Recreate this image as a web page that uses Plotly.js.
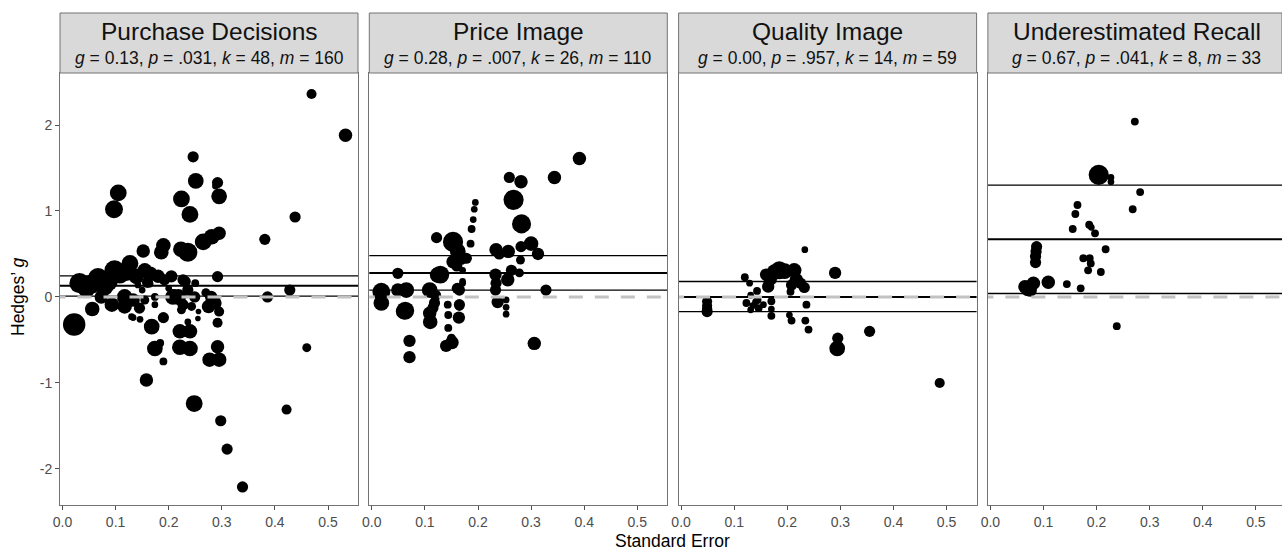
<!DOCTYPE html>
<html>
<head>
<meta charset="utf-8">
<script src="https://cdn.plot.ly/plotly-3.0.1.min.js"></script>
<style>html,body{margin:0;padding:0;background:#fff;}#chart{width:1282px;height:552px;}</style>
</head>
<body>
<div id="chart"></div>
<script>
// ---------- DATA ----------
const panelTitles = ["Purchase Decisions", "Price Image", "Quality Image", "Underestimated Recall"];
const panelStats = [
  "<i>g</i> = 0.13, <i>p</i> = .031, <i>k</i> = 48, <i>m</i> = 160",
  "<i>g</i> = 0.28, <i>p</i> = .007, <i>k</i> = 26, <i>m</i> = 110",
  "<i>g</i> = 0.00, <i>p</i> = .957, <i>k</i> = 14, <i>m</i> = 59",
  "<i>g</i> = 0.67, <i>p</i> = .041, <i>k</i> = 8, <i>m</i> = 33"
];
const estimate = [0.13, 0.28, 0.00, 0.67];
const ciLower  = [0.01, 0.08, -0.17, 0.04];
const ciUpper  = [0.245, 0.48, 0.18, 1.30];

// Purchase Decisions: standard error, Hedges' g, weight
const pdSE = [0.469,0.533,0.246,0.251,0.292,0.288,0.295,0.105,0.097,0.224,0.240,0.438,0.381,0.428,0.386,0.265,0.281,0.295,0.190,0.186,
  0.152,0.223,0.236,0.292,0.022,0.032,0.045,0.067,0.079,0.098,0.108,0.127,0.139,0.155,0.180,0.192,0.227,0.236,0.249,0.280,
  0.287,0.073,0.117,0.133,0.117,0.145,0.155,0.174,0.174,0.130,0.142,0.208,0.218,0.227,0.243,0.255,0.056,0.093,0.168,0.174,
  0.184,0.190,0.190,0.158,0.221,0.240,0.221,0.240,0.236,0.248,0.292,0.277,0.295,0.292,0.295,0.298,0.310,0.339,0.422,0.460,
  0.133,0.146,0.256,0.275,0.224,0.231,0.250,0.221,0.150,0.165,0.200,0.210,0.165,0.205,0.085,0.055,0.120,0.160,0.280,0.270];
const pdG = [2.36,1.88,1.63,1.35,1.33,1.29,1.17,1.21,1.02,1.14,0.96,0.93,0.67,0.08,0.00,0.64,0.70,0.74,0.60,0.52,
  0.535,0.555,0.52,0.236,-0.32,0.16,0.10,0.22,0.12,0.31,0.26,0.39,0.24,0.31,0.24,0.20,0.20,0.08,0.00,0.00,
  -0.07,0.00,0.00,-0.035,-0.11,-0.13,-0.035,0.00,-0.09,-0.23,0.14,0.00,0.00,-0.09,-0.11,-0.25,-0.14,-0.09,-0.345,-0.60,
  -0.535,-0.24,-0.75,-0.965,-0.40,-0.40,-0.585,-0.60,-0.29,-1.24,-0.58,-0.73,-0.73,-0.30,-0.17,-1.44,-1.77,-2.21,-1.31,-0.59,
  -0.24,-0.26,-0.17,-0.11,-0.15,0.18,0.16,-0.05,0.08,0.15,0.10,0.05,0.27,0.24,0.18,0.15,0.29,0.17,-0.04,0.05];
const pdW = [9,12,10,14,10,6,14,15,16,15,15,10,10,10,10,15,14,12,13,13,
  12,14,17,10,20,18,16,18,16,18,16,15,14,13,12,10,10,10,10,11,
  12,12,14,12,13,10,8,7,6,6,6,14,14,10,8,5,13,13,14,14,
  7,10,7,12,13,13,14,14,6,15,12,13,13,9,9,10,10,10,9,8,
  6,6,5,12,8,10,7,8,6,6,6,6,13,11,18,17,16,10,10,8];

// Price Image
const piSE = [0.391,0.344,0.259,0.281,0.267,0.282,0.195,0.193,0.191,0.188,0.186,0.122,0.153,0.162,0.168,0.178,0.153,0.171,0.129,0.049,
  0.018,0.018,0.049,0.065,0.063,0.071,0.071,0.109,0.118,0.109,0.110,0.143,0.144,0.144,0.140,0.151,0.150,0.165,0.165,0.164,
  0.171,0.234,0.257,0.233,0.233,0.256,0.263,0.278,0.237,0.253,0.253,0.253,0.281,0.300,0.313,0.280,0.328,0.306,0.240,0.160,
  0.120,0.115,0.234,0.161,0.171,0.165,0.060,0.124];
const piG = [1.61,1.39,1.39,1.34,1.13,0.85,1.10,1.02,0.90,0.79,0.62,0.69,0.64,0.53,0.45,0.45,0.41,0.31,0.26,0.275,
  0.06,-0.07,0.08,0.08,-0.16,-0.51,-0.70,0.08,-0.07,-0.19,-0.29,-0.09,-0.21,-0.36,-0.57,-0.53,-0.48,0.08,-0.09,-0.24,
  0.16,0.55,0.53,0.26,0.08,0.20,0.31,0.28,-0.06,-0.035,-0.12,-0.20,0.585,0.62,0.50,0.43,0.08,-0.54,0.50,0.36,
  0.02,-0.13,0.16,0.10,0.18,-0.11,-0.17,0.255];
const piW = [12,12,10,12,18,17,6,6,6,7,7,10,18,14,12,10,12,6,16,10,
  16,14,12,14,16,11,11,14,10,12,13,7,7,7,11,12,8,10,10,11,
  6,12,12,11,10,12,10,8,11,6,6,6,10,13,11,8,10,12,10,10,
  10,10,10,10,6,8,14,14];

// Quality Image
const qiSE = [0.049,0.049,0.049,0.049,0.120,0.129,0.131,0.123,0.131,0.143,0.144,0.146,0.164,0.160,0.170,0.170,0.176,0.185,0.195,0.213,
  0.217,0.232,0.225,0.206,0.204,0.208,0.233,0.236,0.234,0.240,0.290,0.295,0.294,0.355,0.487,0.168,0.155,0.135,0.140,0.170,0.208];
const qiG = [-0.05,-0.10,-0.13,-0.17,0.23,0.16,0.02,-0.07,-0.15,0.07,-0.035,-0.13,0.12,0.26,-0.05,-0.22,0.29,0.31,0.30,0.31,
  0.20,0.11,0.16,0.06,-0.21,-0.275,0.55,-0.09,-0.275,-0.38,0.28,-0.48,-0.60,-0.40,-1.00,0.21,-0.09,-0.10,-0.06,-0.14,0.14];
const qiW = [9,9,9,10,7,6,6,7,6,7,7,7,11,11,7,7,14,16,14,13,
  12,10,10,7,6,7,6,7,7,7,11,10,14,10,9,12,6,6,6,6,10];

// Underestimated Recall
const urSE = [0.272,0.204,0.227,0.227,0.282,0.268,0.164,0.160,0.155,0.186,0.190,0.197,0.217,0.175,0.187,0.189,0.184,0.208,0.087,0.086,
  0.085,0.085,0.071,0.081,0.065,0.109,0.144,0.170,0.238,0.075];
const urG = [2.04,1.42,1.39,1.34,1.22,1.02,1.07,0.965,0.79,0.84,0.81,0.74,0.555,0.45,0.45,0.39,0.31,0.29,0.585,0.53,
  0.47,0.40,0.10,0.16,0.12,0.17,0.15,0.10,-0.34,0.08];
const urW = [7,18,6,6,7,7,7,7,7,7,6,7,7,7,7,7,7,7,10,10,
  10,10,14,12,12,12,7,7,7,12];

const xTickVals = [0, 0.1, 0.2, 0.3, 0.4, 0.5];
const xTickText = ["0.0", "0.1", "0.2", "0.3", "0.4", "0.5"];
const yTickVals = [-2, -1, 0, 1, 2];
const yTickText = ["-2", "-1", "0", "1", "2"];

// ---------- LAYOUT GEOMETRY ----------
const W = 1282, H = 552;
const mL = 60, mR = 0, mT = 73, mB = 47;
const plotW = W - mL - mR, plotH = H - mT - mB;
const pxPerUnit = 531;            // horizontal pixels per 1.0 SE
const panelStep = 309.3, panelW = 298;
const sizeScale = 1.12;
const xs = [pdSE, piSE, qiSE, urSE];
const ys = [pdG, piG, qiG, urG];
const ws = [pdW, piW, qiW, urW];

const FONT = "Liberation Sans, Arial, Helvetica, sans-serif";
const borderColor = "#737373";

const traces = [];
const layout = {
  width: W, height: H,
  margin: {l: mL, r: mR, t: mT, b: mB, pad: 0},
  paper_bgcolor: "#fff", plot_bgcolor: "#fff",
  showlegend: false,
  font: {family: FONT, size: 14, color: "#4d4d4d"},
  shapes: [], annotations: []
};

const stripTop = (mT - 13) / plotH;   // strip height in paper units

for (let p = 0; p < 4; p++) {
  const leftPx = mL + panelStep * p;
  const rightPx = Math.min(leftPx + panelW, W - mR);
  const d0 = (leftPx - mL) / plotW, d1 = (rightPx - mL) / plotW;
  const xr0 = -2.5 / pxPerUnit;
  const xr1 = xr0 + (rightPx - leftPx) / pxPerUnit;
  const sfx = p === 0 ? "" : String(p + 1);
  const xa = "x" + sfx, ya = "y" + sfx;

  layout["xaxis" + sfx] = {
    domain: [d0, d1], range: [xr0, xr1], anchor: ya,
    showgrid: false, zeroline: false,
    showline: true, mirror: true, linecolor: borderColor, linewidth: 1,
    ticks: "outside", ticklen: 4, tickwidth: 1, tickcolor: "#4d4d4d",
    tickvals: xTickVals, ticktext: xTickText,
    tickfont: {family: FONT, size: 14, color: "#4d4d4d"}, fixedrange: true
  };
  layout["yaxis" + sfx] = {
    domain: [0, 1], range: [-2.42, 2.605], anchor: xa,
    showgrid: false, zeroline: false,
    showline: true, mirror: true, linecolor: borderColor, linewidth: 1,
    ticks: p === 0 ? "outside" : "", ticklen: 4, tickwidth: 1, tickcolor: "#4d4d4d",
    showticklabels: p === 0,
    tickvals: yTickVals, ticktext: yTickText,
    tickfont: {family: FONT, size: 14, color: "#4d4d4d"}, fixedrange: true
  };

  // points
  traces.push({
    type: "scatter", mode: "markers", x: xs[p], y: ys[p], xaxis: xa, yaxis: ya,
    marker: {color: "#000", opacity: 1, size: ws[p].map(w => w * sizeScale), sizemode: "diameter", line: {width: 0}},
    hoverinfo: "x+y", cliponaxis: true
  });
  // estimate and CI lines
  const span = [-1, 1];
  [[ciUpper[p], 1.3], [estimate[p], 2], [ciLower[p], 1.3]].forEach(([v, lw]) => {
    traces.push({
      type: "scatter", mode: "lines", x: span, y: [v, v], xaxis: xa, yaxis: ya,
      line: {color: "#000", width: lw}, hoverinfo: "skip"
    });
  });
  // reference zero line (gray dashed, on top)
  traces.push({
    type: "scatter", mode: "lines", x: span, y: [0, 0], xaxis: xa, yaxis: ya,
    line: {color: "#c2c2c2", width: 3, dash: "14px,12px"}, hoverinfo: "skip"
  });

  // strip
  layout.shapes.push({
    type: "rect", xref: xa + " domain", yref: "paper",
    x0: 0, x1: 1, y0: 1, y1: 1 + stripTop,
    fillcolor: "#d9d9d9", line: {color: borderColor, width: 1}, layer: "above"
  });
  const centerPx = leftPx + panelW / 2;
  layout.annotations.push({
    xref: "paper", yref: "paper", x: (centerPx - mL) / plotW, y: (H - mB - 32) / plotH,
    text: panelTitles[p], showarrow: false, xanchor: "center", yanchor: "middle",
    font: {family: FONT, size: 24.5, color: "#111"}
  });
  layout.annotations.push({
    xref: "paper", yref: "paper", x: (centerPx - mL) / plotW, y: (H - mB - 58) / plotH,
    text: panelStats[p], showarrow: false, xanchor: "center", yanchor: "middle",
    font: {family: FONT, size: 17.5, color: "#111"}
  });
}

// axis titles
layout.annotations.push({
  xref: "paper", yref: "paper", x: (672 - mL) / plotW, y: -(541 - (H - mB)) / plotH,
  text: "Standard Error", showarrow: false, xanchor: "center", yanchor: "middle",
  font: {family: FONT, size: 17.5, color: "#000"}
});
layout.annotations.push({
  xref: "paper", yref: "paper", x: (18 - mL) / plotW, y: ((H - mB) - 297) / plotH,
  text: "Hedges\u2019 <i>g</i>", showarrow: false, xanchor: "center", yanchor: "middle",
  textangle: -90, font: {family: FONT, size: 17.5, color: "#000"}
});

Plotly.newPlot("chart", traces, layout, {displayModeBar: false, staticPlot: true});
</script>
</body>
</html>
